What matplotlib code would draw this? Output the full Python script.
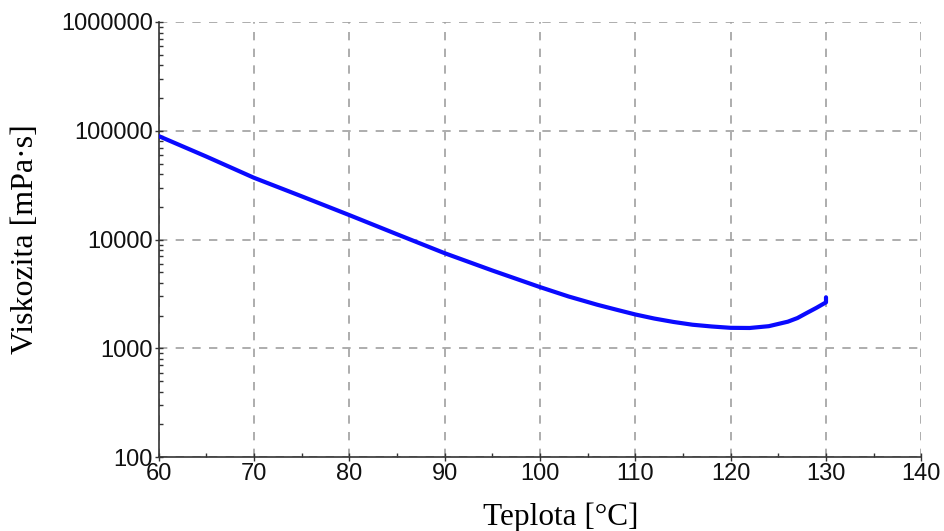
import matplotlib
matplotlib.use("Agg")
import matplotlib.pyplot as plt
from matplotlib.ticker import LogLocator, NullFormatter, MultipleLocator

temperature = [60, 65, 70, 75, 80, 85, 90, 95, 100, 103, 106, 108, 110, 112, 114, 116, 118, 120, 122, 124, 126, 127, 128, 129, 130, 130]
viscosity = [89500, 58000, 37000, 25000, 16800, 11200, 7500, 5200, 3660, 3000, 2520, 2270, 2050, 1880, 1750, 1650, 1590, 1545, 1540, 1600, 1760, 1900, 2120, 2360, 2650, 2950]

xticks = [60, 70, 80, 90, 100, 110, 120, 130, 140]
yticks = [100, 1000, 10000, 100000, 1000000]
ytick_labels = ["100", "1000", "10000", "100000", "1000000"]

fig = plt.figure(figsize=(9.44, 5.31), dpi=100)
ax = fig.add_axes([0.168, 0.139, 0.808, 0.8196])

ax.plot(temperature, viscosity, color="#0a0aff", lw=3, solid_capstyle="round",
        solid_joinstyle="round", zorder=3)

ax.set_yscale("log")
ax.set_xlim(60, 140)
ax.set_ylim(100, 1000000)
ax.set_xticks(xticks)
ax.set_xticklabels([str(t) for t in xticks])
ax.xaxis.set_minor_locator(MultipleLocator(5))
ax.set_yticks(yticks)
ax.set_yticklabels(ytick_labels)
ax.yaxis.set_minor_locator(LogLocator(base=10, subs=range(2, 10)))
ax.yaxis.set_minor_formatter(NullFormatter())

for s in ["top", "right"]:
    ax.spines[s].set_visible(False)
for s in ["left", "bottom"]:
    ax.spines[s].set_color("#333333")
    ax.spines[s].set_linewidth(1.2)

ax.grid(True, which="major", color="#a0a0a0", linestyle=(0, (5, 5)), linewidth=1.2)
ax.tick_params(which="major", direction="inout", length=6, width=1, colors="#333333",
               labelsize=17, labelcolor="#111111", pad=1)
ax.tick_params(which="minor", direction="in", length=3, width=1, colors="#333333")
for lbl in ax.get_xticklabels() + ax.get_yticklabels():
    lbl.set_family("Liberation Sans")

ax.set_xlabel("Teplota [°C]", family="Liberation Serif", fontsize=22.5)
ax.set_ylabel("Viskozita [mPa·s]", family="Liberation Serif", fontsize=23)
ax.xaxis.set_label_coords(0.527, -0.103)
ax.yaxis.set_label_coords(-0.156, 0.5)

fig.savefig("out.png", dpi=100)
